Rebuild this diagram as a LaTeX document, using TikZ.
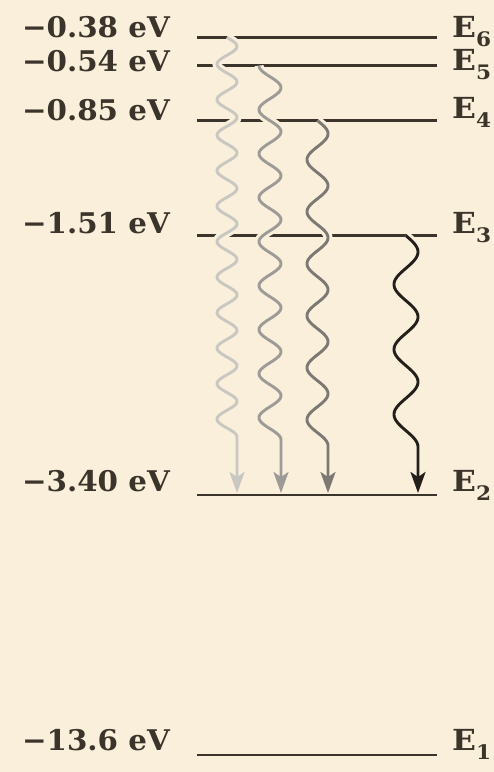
\documentclass[tikz,border=0pt]{standalone}
\usepackage{fontspec}
\setmainfont{DejaVu Serif}
\usetikzlibrary{arrows.meta}
\definecolor{bg}{HTML}{FAEFDA}
\definecolor{ink}{HTML}{3B342B}
\definecolor{waveA}{HTML}{C9C7C2}
\definecolor{waveB}{HTML}{9D9B97}
\definecolor{waveC}{HTML}{7C7975}
\definecolor{waveD}{HTML}{231F1B}
\newcommand{\wtext}[1]{\scalebox{1.03}[1]{#1}}
\newcommand{\elev}[1]{\scalebox{1.08}[1]{E\raisebox{-9pt}{\fontsize{20}{20}\selectfont #1}}}
\begin{document}
\begin{tikzpicture}[x=1pt, y=-1pt,
  level/.style={draw=ink, line width=2.8pt},
  evlabel/.style={anchor=base east, inner sep=0pt, text=ink, font=\fontsize{28.5}{30}\selectfont\bfseries},
  nlabel/.style={anchor=base west, inner sep=0pt, text=ink, font=\fontsize{29}{30}\selectfont\bfseries},
  halo/.style={draw=bg, line width=9pt},
  photon/.style={line width=2.9pt, line join=round},
  tip/.style={-{Stealth[length=21pt, width=15pt, inset=5pt]}}
]
\fill[bg] (0,0) rectangle (494,772);
\useasboundingbox (0,0) rectangle (494,772);

% energy levels
\coordinate (L6w) at (197,37.5);  \coordinate (L6e) at (437,37.5);
\coordinate (L5w) at (197,65.7);  \coordinate (L5e) at (437,65.7);
\coordinate (L4w) at (197,120.7); \coordinate (L4e) at (437,120.7);
\coordinate (L3w) at (197,235.7); \coordinate (L3e) at (437,235.7);
\coordinate (L2w) at (197,495);   \coordinate (L2e) at (437,495);
\coordinate (L1w) at (197,755);   \coordinate (L1e) at (437,755);
\draw[level] (L6w) -- (L6e);
\draw[level] (L5w) -- (L5e);
\draw[level] (L4w) -- (L4e);
\draw[level] (L3w) -- (L3e);
\draw[level] (L2w) -- (L2e);
\draw[level] (L1w) -- (L1e);

% energy labels
\node[evlabel] (v6) at (170,37)  {\wtext{−0.38 eV}};
\node[evlabel] (v5) at (170,71)  {\wtext{−0.54 eV}};
\node[evlabel] (v4) at (170,120) {\wtext{−0.85 eV}};
\node[evlabel] (v3) at (170,233) {\wtext{−1.51 eV}};
\node[evlabel] (v2) at (170,491) {\wtext{−3.40 eV}};
\node[evlabel] (v1) at (170,750) {\wtext{−13.6 eV}};

% level names
\node[nlabel] (n6) at (452,37)  {\elev{6}};
\node[nlabel] (n5) at (452,70)  {\elev{5}};
\node[nlabel] (n4) at (452,118) {\elev{4}};
\node[nlabel] (n3) at (452,233) {\elev{3}};
\node[nlabel] (n2) at (452,491) {\elev{2}};
\node[nlabel] (n1) at (452,750) {\elev{1}};

% photon start (wave centre on upper level) and arrow tips on E2
\coordinate (s6) at (227,37.5);   \coordinate (t6) at (237,493);
\coordinate (s5) at (270,65.7);   \coordinate (t5) at (281,493);
\coordinate (s4) at (317.5,120.7);\coordinate (t4) at (328,493);
\coordinate (s3) at (406,235.7);  \coordinate (t3) at (418,493);

% halos that interrupt the level lines
\draw[halo, shift={(s6)}] plot[domain=0:399.4, samples=300] ({10*cos((\x-399.4)*10.1408)}, \x);
\draw[halo, shift={(s5)}] plot[domain=0:374, samples=300] ({11*cos((\x-374)*8.1818)}, \x);
\draw[halo, shift={(s4)}] plot[domain=0:325, samples=300] ({10.5*cos((\x-325)*6.9231)}, \x);
\draw[halo, shift={(s3)}] plot[domain=0:211.25, samples=200] ({12*cos((\x-211.25)*5.5385)}, \x);

% photons
\draw[photon, draw=waveA, tip, shift={(s6)}] plot[domain=0:399.4, samples=300] ({10*cos((\x-399.4)*10.1408)}, \x) -- (t6);
\draw[photon, draw=waveB, tip, shift={(s5)}] plot[domain=0:374, samples=300] ({11*cos((\x-374)*8.1818)}, \x) -- (t5);
\draw[photon, draw=waveC, tip, shift={(s4)}] plot[domain=0:325, samples=300] ({10.5*cos((\x-325)*6.9231)}, \x) -- (t4);
\draw[photon, draw=waveD, tip, shift={(s3)}] plot[domain=0:211.25, samples=200] ({12*cos((\x-211.25)*5.5385)}, \x) -- (t3);
\end{tikzpicture}
\end{document}
